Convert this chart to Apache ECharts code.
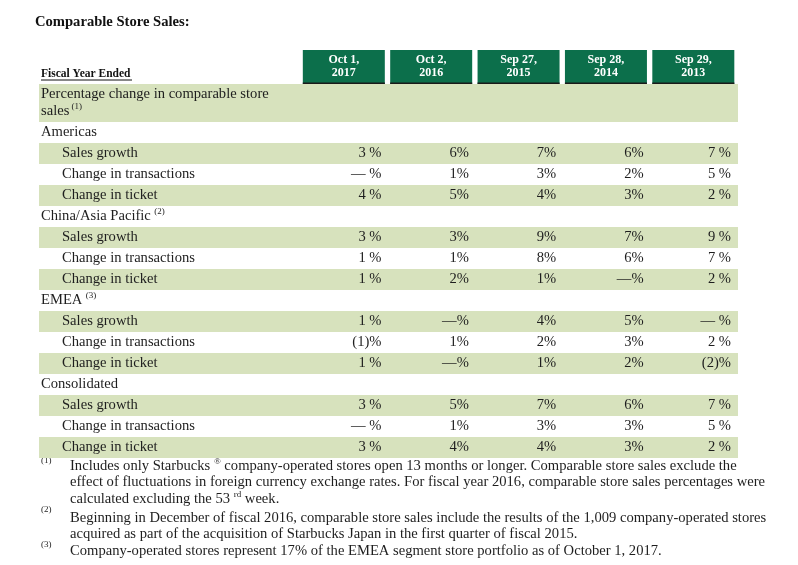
<!DOCTYPE html>
<html><head><meta charset="utf-8">
<script src="https://cdn.jsdelivr.net/npm/echarts@6/dist/echarts.min.js"></script>
<style>html,body{margin:0;padding:0;background:#fff}#c{width:798px;height:565px}</style>
</head><body><div id="c"></div>
<script>
// ---- data ----
const chartTitle = 'Comparable Store Sales:';
const axisTitle = 'Fiscal Year Ended';
const headerRowLabel = ['Percentage change in comparable store', 'sales'];
const headerRowNote = '(1)';
const columns = ['Oct 1,\n2017', 'Oct 2,\n2016', 'Sep 27,\n2015', 'Sep 28,\n2014', 'Sep 29,\n2013'];
const rowLabels = [
  'Americas', 'Sales growth', 'Change in transactions', 'Change in ticket',
  'China/Asia Pacific', 'Sales growth', 'Change in transactions', 'Change in ticket',
  'EMEA', 'Sales growth', 'Change in transactions', 'Change in ticket',
  'Consolidated', 'Sales growth', 'Change in transactions', 'Change in ticket'
];
const rowNotes = ['', '', '', '', '(2)', '', '', '', '(3)', '', '', '', '', '', '', ''];
// percent values; null = section heading row, 0 = dash
const fy2017 = [null, 3, 0, 4, null, 3, 1, 1, null, 1, -1, 1, null, 3, 0, 3];
const fy2016 = [null, 6, 1, 5, null, 3, 1, 2, null, 0, 1, 0, null, 5, 1, 4];
const fy2015 = [null, 7, 3, 4, null, 9, 8, 1, null, 4, 2, 1, null, 7, 3, 4];
const fy2014 = [null, 6, 2, 3, null, 7, 6, 0, null, 5, 3, 2, null, 6, 3, 3];
const fy2013 = [null, 7, 5, 2, null, 9, 7, 2, null, 0, 2, -2, null, 7, 5, 2];
const columnValues = [fy2017, fy2016, fy2015, fy2014, fy2013];
const spacedColumns = [0, 4];
const footnotes = [
  {mark: '(1)', text: 'Includes only Starbucks {sup|®} company-operated stores open 13 months or longer. Comparable store sales exclude the\neffect of fluctuations in foreign currency exchange rates. For fiscal year 2016, comparable store sales percentages were\ncalculated excluding the 53 {sup|rd} week.'},
  {mark: '(2)', text: 'Beginning in December of fiscal 2016, comparable store sales include the results of the 1,009 company-operated stores\nacquired as part of the acquisition of Starbucks Japan in the first quarter of fiscal 2015.'},
  {mark: '(3)', text: 'Company-operated stores represent 17% of the EMEA segment store portfolio as of October 1, 2017.'}
];

// ---- styles ----
const FONT = '"Liberation Serif", "Times New Roman", serif';
const BAND = '#d7e2bd';
const HEAD = '#0c6f4b';
const INK = '#1e1e1e';
const FS = 14.6;
const labelSpan = 3;
const xMax = labelSpan + columns.length;

function fmt(v, c) {
  const sp = spacedColumns.indexOf(c) >= 0 ? ' ' : '';
  if (v === 0) return '—' + sp + '%';
  if (v < 0) return '(' + (-v) + ')%';
  return v + sp + '%';
}

const cellData = [];
columnValues.forEach((arr, c) => arr.forEach((v, r) => { if (v != null) cellData.push([c, r, v]); }));

const chart = echarts.init(document.getElementById('c'), null, {renderer: 'canvas'});

const supStyle = {fontSize: 9, fontFamily: FONT, color: INK, padding: [0, 0, 9, 0]};

const footGraphics = [];
const footTops = [457.5, 509.5, 542.5];
const markY = [461, 510, 545];
footnotes.forEach((f, i) => {
  footGraphics.push({type: 'text', left: 41, top: markY[i] - 5, style: {text: f.mark, font: '9px ' + FONT, fill: INK}});
  footGraphics.push({type: 'text', x: 70, y: footTops[i], style: {
    text: f.text, fontSize: FS, fontFamily: FONT, fill: INK, lineHeight: 16.5, verticalAlign: 'top',
    rich: {sup: {fontSize: 9, fontFamily: FONT, fill: INK, padding: [0, 0, 9, 0]}}
  }});
});

const option = {
  animation: false,
  backgroundColor: '#fff',
  grid: [
    {left: 39, right: 60, top: 122, bottom: 107},
    {left: 39, right: 60, top: 84, height: 38}
  ],
  xAxis: [
    {gridIndex: 0, type: 'value', min: 0, max: xMax, show: false},
    {gridIndex: 1, type: 'value', min: 0, max: xMax, show: false}
  ],
  yAxis: [
    {
      gridIndex: 0, type: 'category', inverse: true, data: rowLabels,
      axisLine: {show: false}, axisTick: {show: false}, splitLine: {show: false},
      splitArea: {show: true, interval: 0, areaStyle: {color: ['rgba(255,255,255,0)', BAND]}},
      axisLabel: {
        inside: true, margin: 2, interval: 0, color: INK,
        formatter: (v, i) => {
          const sec = columnValues[0][i] == null;
          const note = rowNotes[i] ? ' {sup|' + rowNotes[i] + '}' : '';
          return (sec ? '{sec|' : '{sub|') + v + '}' + note;
        },
        rich: {
          sec: {fontSize: FS, fontFamily: FONT, color: INK},
          sub: {fontSize: FS, fontFamily: FONT, color: INK, padding: [0, 0, 0, 21]},
          sup: supStyle
        }
      }
    },
    {
      gridIndex: 1, type: 'category', data: ['pct'],
      axisLine: {show: false}, axisTick: {show: false}, splitLine: {show: false},
      splitArea: {show: true, interval: 0, areaStyle: {color: [BAND]}},
      axisLabel: {
        inside: true, margin: 2, interval: 0,
        formatter: () => '{a|' + headerRowLabel[0] + '}\n{a|' + headerRowLabel[1] + '}{sup| ' + headerRowNote + '}',
        rich: {a: {fontSize: FS, fontFamily: FONT, color: INK, lineHeight: 16}, sup: supStyle}
      }
    }
  ],
  series: [
    {
      type: 'custom', xAxisIndex: 0, yAxisIndex: 0, data: cellData, silent: true, clip: false,
      renderItem: (params, api) => {
        const c = api.value(0), r = api.value(1), v = api.value(2);
        const p = api.coord([labelSpan + c + 1, r]);
        return {type: 'text', x: p[0] - 7, y: p[1], style: {
          text: fmt(v, c), align: 'right', verticalAlign: 'middle', fontSize: FS, fontFamily: FONT, fill: INK
        }};
      }
    },
    {
      type: 'custom', xAxisIndex: 1, yAxisIndex: 1, data: columns.map((d, i) => [i, 0]), silent: true, clip: false,
      renderItem: (params, api) => {
        const c = params.dataIndex;
        const l = api.coord([labelSpan + c, 0])[0];
        const rr = api.coord([labelSpan + c + 1, 0])[0];
        const top = params.coordSys.y;
        const cx = (l + rr) / 2 - 1;
        const w = 82, h = 34;
        return {type: 'group', children: [
          {type: 'rect', shape: {x: cx - w / 2, y: top - h, width: w, height: h}, style: {fill: HEAD}},
          {type: 'rect', shape: {x: cx - w / 2, y: top - 1.5, width: w, height: 1.5}, style: {fill: '#1a1a1a'}},
          {type: 'text', x: cx, y: top - h / 2 - 0.5, style: {
            text: columns[c], align: 'center', verticalAlign: 'middle', fill: '#fff',
            fontSize: 12, fontWeight: 'bold', fontFamily: FONT, lineHeight: 13
          }}
        ]};
      }
    }
  ],
  graphic: [
    {type: 'text', x: 35, y: 22, style: {text: chartTitle, fontSize: 14.6, fontWeight: 'bold', fontFamily: FONT, fill: '#111', verticalAlign: 'middle'}},
    {type: 'text', x: 41, y: 74, style: {text: axisTitle, fontSize: 11.5, fontWeight: 'bold', fontFamily: FONT, fill: '#111', verticalAlign: 'middle'}},
    {type: 'line', shape: {x1: 41, y1: 80, x2: 132, y2: 80}, style: {stroke: '#111', lineWidth: 1}}
  ].concat(footGraphics)
};
chart.setOption(option);
</script>
</body></html>
